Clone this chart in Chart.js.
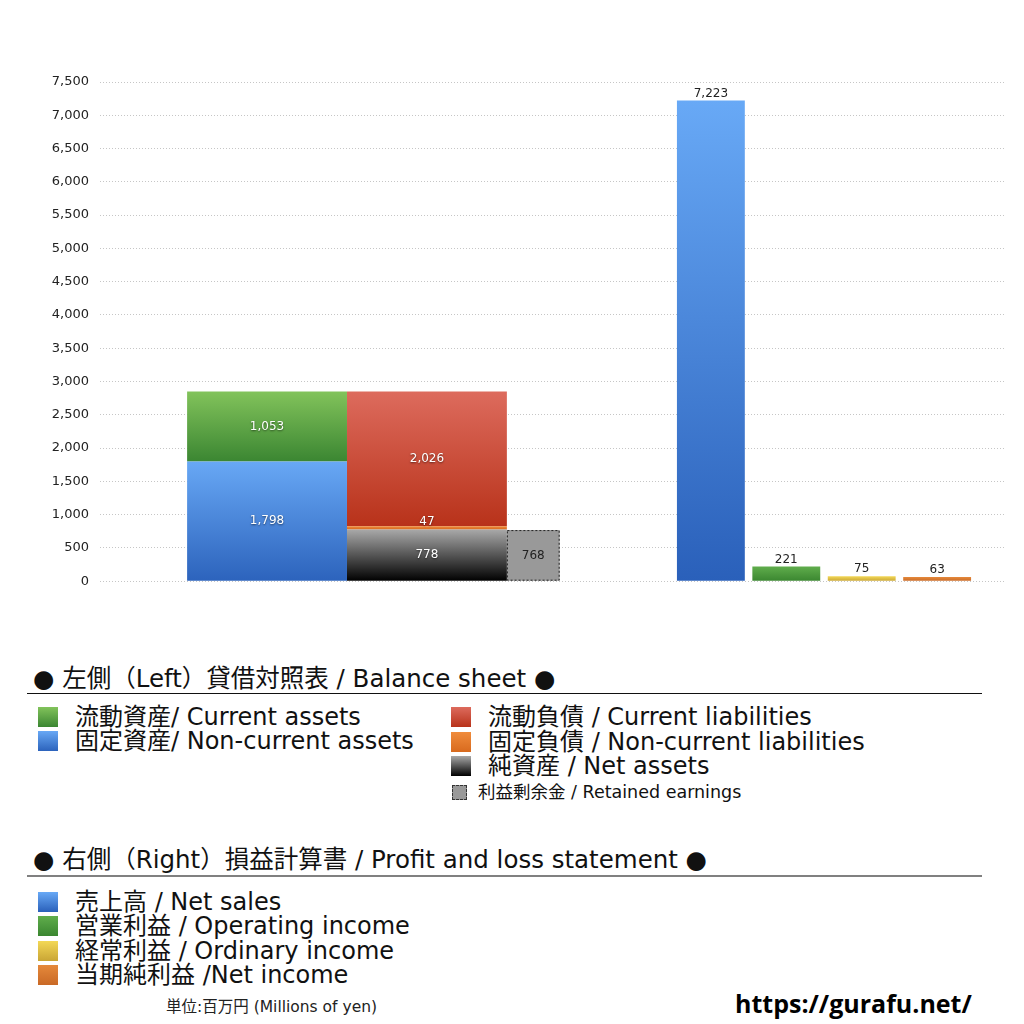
<!DOCTYPE html>
<html lang="ja">
<head>
<meta charset="utf-8">
<title>貸借対照表 / 損益計算書</title>
<script src="https://cdn.jsdelivr.net/npm/chart.js@4.4.1/dist/chart.umd.min.js"></script>
<style>
  html, body { margin: 0; padding: 0; background: #fff; }
  body { width: 1024px; height: 1024px; position: relative; overflow: hidden;
         font-family: "DejaVu Sans", "Noto Sans CJK JP", sans-serif; color: #111; }
  #chartBox { position: absolute; left: 0; top: 0; width: 1024px; height: 600px; }
  .head { position: absolute; left: 33px; font-size: 24.5px; line-height: 26px; white-space: nowrap; }
  .rule { position: absolute; left: 27px; width: 955px; }
  .item { position: absolute; font-size: 24px; line-height: 24px; white-space: nowrap; }
  .item .sw { position: absolute; left: 0; top: 2px; width: 20px; height: 20px; }
  .item .tx { position: absolute; left: 37px; top: 0; }
  .item.small { font-size: 17.5px; line-height: 20px; }
  .item.small .sw { top: 3px; width: 13px; height: 13px; background: #999; border: 1px dashed #333; }
  .item.small .tx { left: 26px; }
  #unit { position: absolute; left: 166px; top: 997px; font-size: 15.5px; line-height: 20px; color: #222; }
  #site { position: absolute; left: 735px; top: 988px; font-family: "Open Sans", sans-serif; font-size: 25px; line-height: 30px; font-weight: bold; color: #000; }
</style>
</head>
<body>
<div id="chartBox"><canvas id="bsChart"></canvas></div>
<div id="legendBox"></div>
<div id="unit">単位:百万円 (Millions of yen)</div>
<div id="site">https://gurafu.net/</div>

<script>
// balance sheet (stack order: bottom -> top)
const assetLabels = ["固定資産/ Non-current assets", "流動資産/ Current assets"];
const assetValues = [1798, 1053];
const claimLabels = ["純資産 / Net assets", "固定負債 / Non-current liabilities", "流動負債 /  Current liabilities"];
const claimValues = [778, 47, 2026];
const retainedLabel = "利益剰余金 / Retained earnings";
const retainedValue = 768;

// profit and loss
const plLabels = ["売上高 / Net sales", "営業利益 / Operating income", "経常利益 / Ordinary income", "当期純利益 /Net income"];
const plValues = [7223, 221, 75, 63];

const yMax = 7500;
const yStep = 500;

// colours, top -> bottom of each bar
const assetColors = [["#68a8f5", "#2c63bc"], ["#82c35b", "#3b8632"]];
const claimColors = [["#a9a9a9", "#000000"], ["#f08c3c", "#d86a1e"], ["#dd6b5d", "#b8321a"]];
const plColors = [["#68a9f6", "#2a60ba"], ["#60ad4c", "#3a8630"], ["#f3d856", "#c9a535"], ["#e5893b", "#c96926"]];

// where the bars sit on the hidden x scale, and how wide (x 1 unit == one P&L slot)
const slots = { assets: 2.215, claims: 4.335, retained: 5.745, pl: [8.1, 9.1, 10.1, 11.1] };
const widths = { bs: 2.12, retained: 0.7, pl: 0.9 };

const FONT = '"DejaVu Sans", "Noto Sans CJK JP", sans-serif';
const fmt = v => Number(v).toLocaleString("en-US");

function vGrad(from, to, [top, bottom]) {
  return ctx => {
    const chart = ctx.chart;
    const y = chart.scales.y;
    if (!chart.chartArea || !y) return bottom;
    const g = chart.ctx.createLinearGradient(0, y.getPixelForValue(to), 0, y.getPixelForValue(from));
    g.addColorStop(0, top);
    g.addColorStop(1, bottom);
    return g;
  };
}

function makeBar(label, x, value, from, colors, pct, mode) {
  return {
    label,
    data: [{ x, y: value }],
    grouped: false,
    barPercentage: pct,
    categoryPercentage: 1,
    borderWidth: 0,
    backgroundColor: colors ? vGrad(from, from + value, colors) : "#999999",
    labelMode: mode
  };
}

const datasets = [];
let acc = 0;
assetValues.forEach((v, i) => {
  datasets.push(makeBar(assetLabels[i], slots.assets, v, acc, assetColors[i], widths.bs, "inside"));
  acc += v;
});
acc = 0;
claimValues.forEach((v, i) => {
  datasets.push(makeBar(claimLabels[i], slots.claims, v, acc, claimColors[i], widths.bs, "inside"));
  acc += v;
});
datasets.push(makeBar(retainedLabel, slots.retained, retainedValue, 0, null, widths.retained, "boxed"));
plValues.forEach((v, i) => {
  datasets.push(makeBar(plLabels[i], slots.pl[i], v, 0, plColors[i], widths.pl, "above"));
});

const valueLabels = {
  id: "valueLabels",
  afterDatasetsDraw(chart) {
    const { ctx } = chart;
    chart.data.datasets.forEach((ds, di) => {
      const meta = chart.getDatasetMeta(di);
      meta.data.forEach((bar, i) => {
        const { x, y, base, width } = bar.getProps(["x", "y", "base", "width"], true);
        const text = fmt(ds.data[i].y);
        ctx.save();
        ctx.font = `12px ${FONT}`;
        ctx.textAlign = "center";
        if (ds.labelMode === "above") {
          ctx.fillStyle = "#222";
          ctx.textBaseline = "bottom";
          ctx.fillText(text, x, y - 1);
        } else if (ds.labelMode === "boxed") {
          ctx.strokeStyle = "#222";
          ctx.lineWidth = 1;
          ctx.setLineDash([2, 2]);
          ctx.strokeRect(x - width / 2 + 0.5, y + 0.5, width - 1, base - y - 1);
          ctx.setLineDash([]);
          ctx.fillStyle = "#222";
          ctx.textBaseline = "middle";
          ctx.fillText(text, x, (y + base) / 2);
        } else {
          const h = base - y;
          const cy = h < 14 ? (y + base) / 2 - 6 : (y + base) / 2;
          ctx.fillStyle = "#fff";
          ctx.shadowColor = "rgba(0,0,0,.55)";
          ctx.shadowBlur = 2;
          ctx.shadowOffsetY = 1;
          ctx.textBaseline = "middle";
          ctx.fillText(text, x, cy);
        }
        ctx.restore();
      });
    });
  }
};

new Chart(document.getElementById("bsChart"), {
  type: "bar",
  data: { datasets },
  options: {
    responsive: true,
    maintainAspectRatio: false,
    animation: false,
    layout: { padding: { top: 82, right: 19, bottom: 18, left: 0 } },
    plugins: { legend: { display: false }, tooltip: { enabled: false } },
    scales: {
      x: { type: "linear", min: 0, max: 12, offset: false, display: false, ticks: { stepSize: 1 } },
      y: {
        stacked: true,
        min: 0,
        max: yMax,
        afterFit: s => { s.width = 100; },
        ticks: { stepSize: yStep, padding: 11, color: "#222", font: { family: FONT, size: 13 }, callback: v => fmt(v) },
        grid: { color: "#c6c6c6", lineWidth: 1, drawTicks: false },
        border: { display: false, dash: [1, 2] }
      }
    }
  },
  plugins: [valueLabels]
});

// legend below the chart
const swatch = ([top, bottom]) => `background:linear-gradient(${top}, ${bottom});`;
const rows = [];
const addItem = (left, top, text, style, cls = "") =>
  rows.push(`<div class="item ${cls}" style="left:${left}px;top:${top}px"><span class="sw" style="${style}"></span><span class="tx">${text}</span></div>`);

rows.push(`<div class="head" style="top:666px">● 左側（Left）貸借対照表 / Balance sheet ●</div>`);
rows.push(`<div class="rule" style="top:693px;border-top:1px solid #111"></div>`);
[1, 0].forEach((k, r) => addItem(38, 705 + r * 24, assetLabels[k], swatch(assetColors[k])));
[2, 1, 0].forEach((k, r) => addItem(451, 705 + r * 24.5, claimLabels[k], swatch(claimColors[k])));
addItem(452, 782, retainedLabel, "", "small");

rows.push(`<div class="head" style="top:847px">● 右側（Right）損益計算書 / Profit and loss statement ●</div>`);
rows.push(`<div class="rule" style="top:875px;border-top:2px solid #808080"></div>`);
plLabels.forEach((t, r) => addItem(38, 890 + r * 24.3, t, swatch(plColors[r])));

document.getElementById("legendBox").innerHTML = rows.join("");
</script>
</body>
</html>
